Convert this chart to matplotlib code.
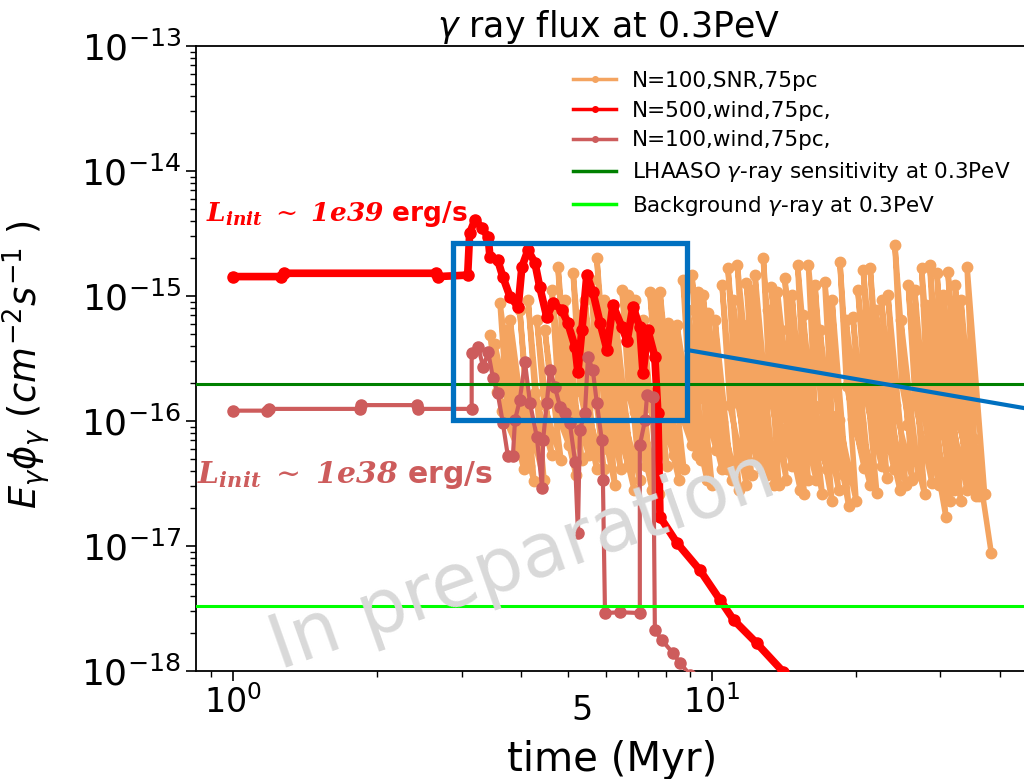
import numpy as np
import matplotlib
matplotlib.use('Agg')
import matplotlib.pyplot as plt
from matplotlib.lines import Line2D
from matplotlib.patches import Rectangle
from matplotlib.ticker import NullFormatter

# ---- data (time in Myr, flux in cm^-2 s^-1) ----
# N=100, SNR, 75pc : each burst = jump to peak, knee, then bottom of the decay
# tall bursts
snr_t_start = [3.44, 3.61, 3.79, 4.13, 4.48, 4.77, 5.13, 5.43, 5.75, 6.13, 6.49, 6.91, 7.42, 7.79, 8.09,
               8.45, 8.70, 9.08, 9.35, 9.81, 10.5, 10.8, 11.3, 11.8, 12.3, 12.8, 13.3, 13.7, 14.2, 15.1,
               15.9, 17.2, 18.5, 19.7, 20.7, 21.4, 22.6, 24.1, 25.7, 27.4, 28.5, 29.5, 31.1, 32.2, 34.1]
snr_t_knee = [3.56, 3.73, 3.92, 4.27, 4.63, 4.93, 5.30, 5.62, 5.95, 6.34, 6.71, 7.14, 7.67, 8.05, 8.37,
              8.74, 9.00, 9.39, 9.67, 10.1, 10.9, 11.2, 11.7, 12.2, 12.7, 13.2, 13.8, 14.1, 14.7, 15.6,
              16.4, 17.8, 19.1, 20.4, 21.4, 22.1, 23.4, 24.9, 26.6, 28.3, 29.5, 30.5, 32.2, 33.3, 35.3]
snr_t_end = [3.86, 4.05, 4.25, 4.63, 5.03, 5.35, 5.75, 6.10, 6.45, 6.88, 7.28, 7.75, 8.33, 8.74, 9.08,
             9.48, 9.76, 10.2, 10.5, 11.0, 11.8, 12.1, 12.7, 13.3, 13.8, 14.3, 15.0, 15.3, 15.9, 17.0,
             17.8, 19.3, 20.8, 22.1, 23.2, 24.0, 25.4, 27.0, 28.8, 30.8, 32.0, 33.1, 34.9, 36.1, 38.3]
snr_peak = [4.9e-16, 8.8e-16, 6.4e-16, 9.3e-16, 5.3e-16, 1.71e-15, 1.53e-15, 9.3e-16, 2.01e-15, 7.7e-16,
            1.12e-15, 9.3e-16, 1.08e-15, 1.08e-15, 6.1e-16, 5.9e-16, 1.34e-15, 1.47e-15, 1.08e-15, 7.3e-16,
            1.22e-15, 1.67e-15, 1.77e-15, 1.27e-15, 1.47e-15, 2.01e-15, 1.18e-15, 1.08e-15, 1.39e-15, 1.77e-15,
            1.77e-15, 1.29e-15, 1.87e-15, 6.8e-16, 1.61e-15, 1.67e-15, 9.3e-16, 2.56e-15, 1.22e-15, 1.67e-15,
            1.77e-15, 1.53e-15, 1.56e-15, 1.22e-15, 1.71e-15]
snr_knee = [1.71e-16, 1.39e-16, 1.08e-16, 1.67e-16, 1.50e-16, 2.0e-16, 1.74e-16, 1.77e-16, 1.94e-16, 1.06e-16,
            1.61e-16, 1.08e-16, 1.77e-16, 1.50e-16, 1.58e-16, 1.32e-16, 1.47e-16, 2.13e-16, 1.50e-16, 1.16e-16,
            1.34e-16, 1.71e-16, 1.84e-16, 1.80e-16, 1.45e-16, 1.74e-16, 1.74e-16, 1.20e-16, 1.50e-16, 1.39e-16,
            1.32e-16, 1.10e-16, 1.91e-16, 9.6e-17, 1.61e-16, 1.80e-16, 1.20e-16, 2.0e-16, 1.37e-16, 1.08e-16,
            1.47e-16, 1.25e-16, 1.47e-16, 1.18e-16, 7.2e-17]
snr_min = [8.5e-17, 4.1e-17, 3.3e-17, 5.3e-17, 6.4e-17, 4.9e-17, 4.1e-17, 5.9e-17, 4.1e-17, 2.8e-17,
           4.4e-17, 2.6e-17, 5.3e-17, 4.1e-17, 6.4e-17, 4.9e-17, 3.4e-17, 5.9e-17, 4.1e-17, 3.4e-17,
           3.1e-17, 3.7e-17, 4.1e-17, 4.9e-17, 3.1e-17, 3.4e-17, 4.9e-17, 2.8e-17, 3.4e-17, 2.6e-17,
           2.3e-17, 2.1e-17, 4.2e-17, 2.65e-17, 3.5e-17, 4.1e-17, 3.1e-17, 3.7e-17, 3.2e-17, 1.7e-17,
           2.8e-17, 2.3e-17, 3.1e-17, 2.5e-17, 8.8e-18]
# lower bursts in between
snr2_t_start = [3.52, 3.70, 3.97, 4.31, 4.63, 4.93, 5.30, 5.59, 5.95, 6.30, 6.68, 7.18, 7.60, 8.29, 8.91,
                9.58, 10.15, 11.06, 11.6, 12.06, 13.1, 13.94, 14.69, 15.49, 16.41, 16.81, 17.81, 19.05,
                20.17, 22.0, 23.3, 24.8, 26.5, 28.0, 30.4, 31.7, 33.1]
snr2_t_knee = [3.64, 3.82, 4.11, 4.46, 4.79, 5.10, 5.48, 5.78, 6.15, 6.52, 6.91, 7.42, 7.86, 8.58, 9.22,
               9.90, 10.5, 11.4, 12.0, 12.5, 13.5, 14.4, 15.2, 16.0, 17.0, 17.4, 18.4, 19.7,
               20.9, 22.8, 24.1, 25.6, 27.4, 28.9, 31.4, 32.8, 34.2]
snr2_t_end = [3.95, 4.15, 4.46, 4.84, 5.20, 5.53, 5.95, 6.27, 6.68, 7.07, 7.50, 8.05, 8.53, 9.31, 10.0,
              10.75, 11.4, 12.4, 13.0, 13.5, 14.7, 15.6, 16.5, 17.4, 18.4, 18.9, 20.0, 21.4,
              22.6, 24.7, 26.2, 27.8, 29.8, 31.4, 34.1, 35.6, 37.1]
snr2_peak = [4.1e-16, 5.3e-16, 7.7e-16, 6.4e-16, 1.12e-15, 9.3e-16, 7.0e-16, 1.34e-15, 9.3e-16, 6.4e-16,
             1.02e-15, 6.4e-16, 9.3e-16, 5.3e-16, 7.7e-16, 1.02e-15, 6.4e-16, 9.3e-16, 5.9e-16, 1.12e-15,
             7.7e-16, 5.3e-16, 1.02e-15, 7.0e-16, 1.22e-15, 5.3e-16, 9.3e-16, 6.4e-16, 1.12e-15, 7.7e-16,
             1.02e-15, 6.4e-16, 1.12e-15, 8.5e-16, 1.02e-15, 7.0e-16, 9.3e-16]
snr2_knee = [1.20e-16, 1.20e-16, 1.18e-16, 1.37e-16, 1.45e-16, 1.67e-16, 1.25e-16, 1.39e-16, 1.50e-16, 1.10e-16,
             1.18e-16, 1.29e-16, 1.25e-16, 1.34e-16, 1.13e-16, 1.47e-16, 9.8e-17, 1.58e-16, 1.13e-16, 1.29e-16,
             1.39e-16, 8.6e-17, 1.32e-16, 1.25e-16, 1.25e-16, 1.08e-16, 1.02e-16, 1.04e-16, 1.61e-16, 1.06e-16,
             1.34e-16, 9.3e-17, 1.29e-16, 9.8e-17, 1.18e-16, 9.5e-17, 1.04e-16]
snr2_min = [5.9e-17, 4.4e-17, 3.4e-17, 4.9e-17, 3.7e-17, 5.3e-17, 4.1e-17, 3.1e-17, 4.4e-17, 3.4e-17,
            2.8e-17, 4.4e-17, 3.4e-17, 5.3e-17, 3.1e-17, 4.1e-17, 2.8e-17, 4.9e-17, 3.7e-17, 3.1e-17,
            4.4e-17, 2.6e-17, 3.4e-17, 4.1e-17, 2.8e-17, 3.7e-17, 2.3e-17, 3.1e-17, 4.4e-17, 2.8e-17,
            3.4e-17, 2.6e-17, 3.1e-17, 2.3e-17, 2.8e-17, 2.5e-17, 2.6e-17]

# N=500, wind, 75pc
wind500_t = [1.0, 1.26, 1.28, 2.66, 2.68, 3.09, 3.12, 3.20, 3.31, 3.41, 3.44, 3.57, 3.66, 3.79, 3.94, 4.01,
             4.13, 4.27, 4.37, 4.52, 4.66, 4.86, 5.00, 5.18, 5.25, 5.35, 5.48, 5.64, 5.84, 6.04, 6.21,
             6.49, 6.65, 6.84, 7.07, 7.18, 7.35, 7.60, 7.71, 7.79, 8.45, 9.44, 10.4, 11.1, 12.4, 14.1, 14.6]
wind500_f = [1.43e-15, 1.43e-15, 1.52e-15, 1.52e-15, 1.43e-15, 1.47e-15, 3.19e-15, 4.06e-15, 3.50e-15,
             2.96e-15, 2.05e-15, 1.94e-15, 1.42e-15, 9.8e-16, 8.2e-16, 1.71e-15, 2.33e-15, 1.84e-15,
             1.18e-15, 6.8e-16, 8.8e-16, 7.7e-16, 6.1e-16, 3.9e-16, 2.47e-16, 5.3e-16, 1.47e-15, 1.08e-15,
             6.1e-16, 3.7e-16, 8.5e-16, 5.6e-16, 4.4e-16, 8.2e-16, 5.6e-16, 2.42e-16, 5.3e-16, 3.25e-16,
             1.16e-16, 1.71e-17, 1.06e-17, 6.4e-18, 3.7e-18, 2.56e-18, 1.67e-18, 9.8e-19, 8.6e-19]

# N=100, wind, 75pc
wind100_t = [1.0, 1.18, 1.19, 1.84, 1.85, 2.42, 2.43, 3.15, 3.15, 3.25, 3.33, 3.41, 3.49, 3.57, 3.66,
             3.75, 3.84, 3.88, 3.97, 4.07, 4.17, 4.31, 4.42, 4.44, 4.52, 4.59, 4.70, 4.82, 4.93, 5.05,
             5.18, 5.25, 5.30, 5.43, 5.51, 5.64, 5.75, 5.89, 5.92, 5.98, 6.43, 7.07, 7.07, 7.25, 7.32,
             7.53, 7.60, 7.86, 8.29, 8.58, 9.00]
wind100_f = [1.21e-16, 1.21e-16, 1.25e-16, 1.25e-16, 1.34e-16, 1.34e-16, 1.25e-16, 1.25e-16, 3.5e-16,
             3.9e-16, 2.7e-16, 3.56e-16, 2.2e-16, 1.67e-16, 9.6e-17, 5.2e-17, 5.2e-17, 1.02e-16, 1.47e-16,
             2.96e-16, 1.39e-16, 7.4e-17, 2.9e-17, 7.0e-17, 1.39e-16, 2.56e-16, 1.87e-16, 1.29e-16,
             1.16e-16, 9.6e-17, 4.7e-17, 1.27e-17, 8.5e-17, 1.16e-16, 3.25e-16, 2.56e-16, 1.39e-16,
             7.0e-17, 3.4e-17, 2.91e-18, 2.95e-18, 2.91e-18, 6.4e-17, 1.02e-16, 1.61e-16, 1.56e-16,
             2.13e-18, 1.77e-18, 1.39e-18, 1.16e-18, 9.3e-19]

lhaaso_sens = 1.98e-16
background = 3.3e-18

labels = ['N=100,SNR,75pc', 'N=500,wind,75pc,', 'N=100,wind,75pc,',
          r'LHAASO $\gamma$-ray sensitivity at 0.3PeV', r'Background $\gamma$-ray at 0.3PeV']

c_snr = '#F4A460'
c_w500 = '#FF0000'
c_w100 = '#CD5C5C'

# sawtooth path for the SNR case: bursts in time order, peak -> knee -> bottom each
b_t = np.column_stack([snr_t_start + snr2_t_start, snr_t_knee + snr2_t_knee, snr_t_end + snr2_t_end])
b_f = np.column_stack([snr_peak + snr2_peak, snr_knee + snr2_knee, snr_min + snr2_min])
order = np.argsort(b_t[:, 0])
snr_t = b_t[order].ravel()
snr_f = b_f[order].ravel()

fig = plt.figure(figsize=(10.24, 7.79), dpi=100)
ax = fig.add_axes([196 / 1024, 1 - 671 / 779, 832 / 1024, 625 / 779])

ax.plot(snr_t, snr_f, '-o', color=c_snr, lw=4, ms=7.5, zorder=2)
ax.plot(wind500_t, wind500_f, '-o', color=c_w500, lw=5.5, ms=8, zorder=3)
ax.plot(wind100_t, wind100_f, '-o', color=c_w100, lw=3, ms=8, zorder=4)
ax.axhline(lhaaso_sens, color='green', lw=2.2, zorder=5)
ax.axhline(background, color='lime', lw=2.2, zorder=5)

ax.set_xscale('log')
ax.set_yscale('log')
ax.set_xlim(0.837, 45.7)
ax.set_ylim(1e-18, 1e-13)
ax.xaxis.set_minor_formatter(NullFormatter())
ax.tick_params(axis='y', which='major', labelsize=26)
ax.tick_params(axis='x', which='major', labelsize=24)
ax.tick_params(which='major', length=7, width=1.2)
ax.tick_params(which='minor', length=4, width=1)
for s in ax.spines.values():
    s.set_linewidth(1.3)

ax.set_xlabel('time (Myr)', fontsize=29)
ax.xaxis.set_label_coords(0.5, -0.11)
ax.set_ylabel(r'$E_{\gamma}\phi_{\gamma}\ (cm^{-2}s^{-1}\ )$', fontsize=26.5)
ax.yaxis.set_label_coords(-0.173, 0.49)
fig.text(609 / 1024, 1 - 27 / 779, r'$\gamma$ ray flux at 0.3PeV', fontsize=25,
         ha='center', va='center')

handles = [Line2D([], [], color=c_snr, lw=2.5, marker='o', ms=4),
           Line2D([], [], color=c_w500, lw=2.5, marker='o', ms=4),
           Line2D([], [], color=c_w100, lw=2.5, marker='o', ms=4),
           Line2D([], [], color='green', lw=2.5),
           Line2D([], [], color='lime', lw=2.5)]
ax.legend(handles, labels, loc='upper left', bbox_to_anchor=(573 / 1024, 1 - 71 / 779),
          bbox_transform=fig.transFigure, frameon=False, fontsize=15.5, borderpad=0,
          borderaxespad=0, handlelength=2.0, handletextpad=0.75, labelspacing=0.45)

# annotations
ax.text(0.0115, 0.731, r'$\mathbfit{L_{init}}\ \sim\ \mathbfit{1e39}$ erg/s', transform=ax.transAxes,
        color=c_w500, fontsize=19, fontweight='bold', math_fontfamily='dejavuserif',
        va='center', ha='left')
ax.text(0.001, 0.314, r'$\mathbfit{L_{init}}\ \sim\ \mathbfit{1e38}$ erg/s', transform=ax.transAxes,
        color=c_w100, fontsize=21.5, fontweight='bold', math_fontfamily='dejavuserif',
        va='center', ha='left')
ax.text(5.35, -0.064, '5', transform=ax.get_xaxis_transform(), fontsize=24,
        ha='center', va='center')

ax.add_patch(Rectangle((2.88, 1.02e-16), 8.87 - 2.88, 2.65e-15 - 1.02e-16, fill=False,
                       edgecolor='#0070C0', lw=3.8, zorder=6))
ax.plot([8.87, 44.8], [3.7e-16, 1.27e-16], color='#0070C0', lw=3, zorder=6)

fig.text(523 / 1024, 1 - 562 / 779, 'In preparation', fontsize=54, color='#D9D9D9',
         rotation=19.5, ha='center', va='center', zorder=10)

fig.savefig('out.png', dpi=100)
